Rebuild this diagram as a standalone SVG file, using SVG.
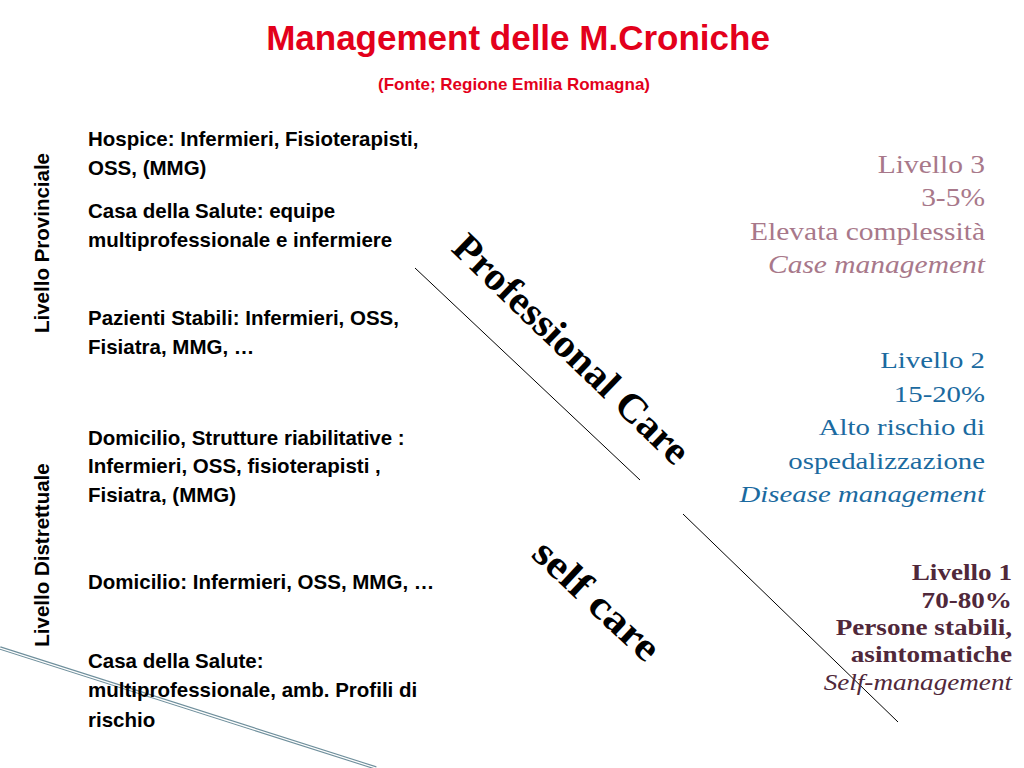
<svg xmlns="http://www.w3.org/2000/svg" width="1024" height="768" viewBox="0 0 1024 768">
<style>
.l{font-family:"Liberation Sans",Arial,sans-serif;font-weight:bold;font-size:20.5px;fill:#000}
.r{font-family:"Liberation Serif","Times New Roman",serif;text-anchor:end}
.big{font-family:"Liberation Serif","Times New Roman",serif;font-weight:bold;fill:#000}
</style>
<rect width="1024" height="768" fill="#fff"/>
<g id="title">
<text x="518" y="50" text-anchor="middle" font-family="Liberation Sans,Arial,sans-serif" font-weight="bold" font-size="35" fill="#e3001b">Management delle M.Croniche</text>
<text x="514" y="90" text-anchor="middle" font-family="Liberation Sans,Arial,sans-serif" font-weight="bold" font-size="17" fill="#e3001b">(Fonte; Regione Emilia Romagna)</text>
</g>
<g id="connectors" fill="none">
<line x1="415" y1="268" x2="640" y2="480" stroke="#000" stroke-width="1"/>
<line x1="683" y1="514" x2="898" y2="722" stroke="#000" stroke-width="1"/>
<line x1="0" y1="648" x2="376" y2="768" stroke="#6f8f9c" stroke-width="3.5"/>
<line x1="0" y1="648" x2="376" y2="768" stroke="#fff" stroke-width="1.3"/>
</g>
<g id="levels">
<text class="l" transform="translate(49,243) rotate(-90)" text-anchor="middle" font-size="22">Livello Provinciale</text>
<text class="l" transform="translate(49,555) rotate(-90)" text-anchor="middle" font-size="22">Livello Distrettuale</text>
</g>
<g id="left">
<text class="l" x="88" y="146">Hospice: Infermieri, Fisioterapisti,</text>
<text class="l" x="88" y="175">OSS, (MMG)</text>
<text class="l" x="88" y="218">Casa della Salute: equipe</text>
<text class="l" x="88" y="247">multiprofessionale e infermiere</text>
<text class="l" x="88" y="325">Pazienti Stabili: Infermieri, OSS,</text>
<text class="l" x="88" y="354">Fisiatra, MMG, …</text>
<text class="l" x="88" y="445">Domicilio, Strutture riabilitative :</text>
<text class="l" x="88" y="473">Infermieri, OSS, fisioterapisti ,</text>
<text class="l" x="88" y="502">Fisiatra, (MMG)</text>
<text class="l" x="88" y="589">Domicilio: Infermieri, OSS, MMG, …</text>
<text class="l" x="88" y="668">Casa della Salute:</text>
<text class="l" x="88" y="697">multiprofessionale, amb. Profili di</text>
<text class="l" x="88" y="727">rischio</text>
</g>
<g id="diag">
<text class="big" font-size="40" transform="translate(450,250) rotate(44)" textLength="312" lengthAdjust="spacingAndGlyphs">Professional Care</text>
<text class="big" font-size="40" transform="translate(530,556) rotate(43)" textLength="158" lengthAdjust="spacingAndGlyphs">self care</text>
</g>
<g id="l3" font-size="25" fill="#a8788a" transform="translate(985,0) scale(1.18,1)">
<text class="r" x="0" y="173">Livello 3</text>
<text class="r" x="0" y="206">3-5%</text>
<text class="r" x="0" y="240">Elevata complessità</text>
<text class="r" x="0" y="273" font-style="italic">Case management</text>
</g>
<g id="l2" font-size="24" fill="#1b6aa0" transform="translate(985,0) scale(1.2,1)">
<text class="r" x="0" y="368">Livello 2</text>
<text class="r" x="0" y="402">15-20%</text>
<text class="r" x="0" y="435">Alto rischio di</text>
<text class="r" x="0" y="469">ospedalizzazione</text>
<text class="r" x="0" y="502" font-style="italic">Disease management</text>
</g>
<g id="l1" font-size="23" fill="#50283a" font-weight="bold" transform="translate(1012,0) scale(1.18,1)">
<text class="r" x="0" y="580">Livello 1</text>
<text class="r" x="0" y="608">70-80%</text>
<text class="r" x="0" y="635">Persone stabili,</text>
<text class="r" x="0" y="662">asintomatiche</text>
<text class="r" x="0" y="690" font-style="italic" font-weight="normal">Self-management</text>
</g>
</svg>
